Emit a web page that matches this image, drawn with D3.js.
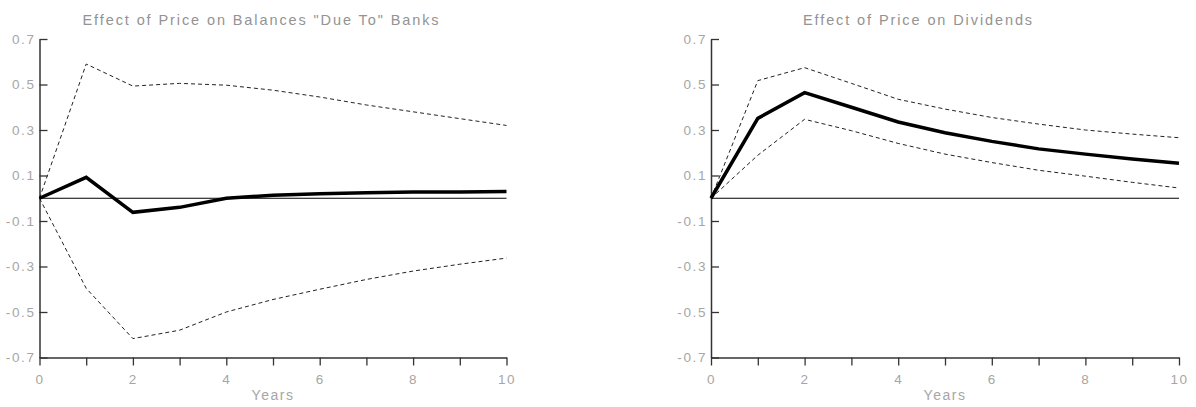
<!DOCTYPE html>
<html>
<head>
<meta charset="utf-8">
<script src="https://cdn.jsdelivr.net/npm/d3@7"></script>
<style>
  body { margin: 0; background: #fff; }
  text { font-family: "Liberation Sans", Arial, sans-serif; }
</style>
</head>
<body>
<div id="chart"></div>
<script>
// years on the x axis
var years = [0, 1, 2, 3, 4, 5, 6, 7, 8, 9, 10];

// effect of price on balances "due to" banks
var banksMid = [0, 0.092, -0.062, -0.04, 0.0, 0.013, 0.02, 0.024, 0.027, 0.028, 0.03];
var banksUpper = [0, 0.59, 0.493, 0.505, 0.497, 0.475, 0.445, 0.41, 0.38, 0.35, 0.32];
var banksLower = [0, -0.396, -0.617, -0.58, -0.5, -0.445, -0.4, -0.357, -0.32, -0.29, -0.263];

// effect of price on dividends
var divMid = [0, 0.351, 0.464, 0.40, 0.335, 0.288, 0.25, 0.217, 0.194, 0.173, 0.154];
var divUpper = [0, 0.517, 0.574, 0.505, 0.435, 0.392, 0.355, 0.326, 0.30, 0.282, 0.266];
var divLower = [0, 0.189, 0.347, 0.297, 0.241, 0.194, 0.157, 0.123, 0.097, 0.07, 0.045];

// tick values and labels
var yTicks = [0.7, 0.5, 0.3, 0.1, -0.1, -0.3, -0.5, -0.7];
var yTickLabels = ["0.7", "0.5", "0.3", "0.1", "-0.1", "-0.3", "-0.5", "-0.7"];
var xTickLabels = ["0", "", "2", "", "4", "", "6", "", "8", "", "10"];

var titles = ['Effect of Price on Balances "Due To" Banks', "Effect of Price on Dividends"];

var w = 1196;
var h = 407;

var svg = d3.select("#chart")
  .append("svg")
  .attr("width", w)
  .attr("height", h);

//one panel per chart
function drawPanel(left, right, titleX, title, mid, upper, lower) {
  var xScale = d3.scaleLinear().domain([0, 10]).range([left, right]);
  var yScale = d3.scaleLinear().domain([-0.7, 0.7]).range([357.5, 39]);

  var g = svg.append("g");

  //y axis with ticks pointing inward
  var yAxis = d3.axisLeft(yScale)
    .tickValues(yTicks)
    .tickSizeInner(-8)
    .tickSizeOuter(0)
    .tickPadding(4)
    .tickFormat(function (d, i) { return yTickLabels[i]; });

  var yG = g.append("g")
    .attr("transform", "translate(" + left + ",0)")
    .call(yAxis);

  //x axis with ticks pointing down
  var xAxis = d3.axisBottom(xScale)
    .tickValues(years)
    .tickSizeInner(8)
    .tickSizeOuter(0)
    .tickPadding(9)
    .tickFormat(function (d, i) { return xTickLabels[i]; });

  var xG = g.append("g")
    .attr("transform", "translate(0," + yScale(-0.7) + ")")
    .call(xAxis);

  [yG, xG].forEach(function (a) {
    a.select(".domain").attr("stroke", "#333").attr("stroke-width", 1.5);
    a.selectAll(".tick line").attr("stroke", "#333").attr("stroke-width", 1.3);
    a.selectAll(".tick text")
      .attr("fill", "#a6a6a6")
      .style("font-size", "13.5px")
      .style("letter-spacing", "1.6px");
  });

  //zero line
  g.append("line")
    .attr("x1", xScale(0))
    .attr("x2", xScale(10))
    .attr("y1", yScale(0))
    .attr("y2", yScale(0))
    .attr("stroke", "#000")
    .attr("stroke-width", 1);

  var line = d3.line()
    .x(function (d, i) { return xScale(years[i]); })
    .y(function (d) { return yScale(d); });

  //confidence bands
  [upper, lower].forEach(function (band) {
    g.append("path")
      .datum(band)
      .attr("d", line)
      .attr("fill", "none")
      .attr("stroke", "#222")
      .attr("stroke-width", 1)
      .attr("stroke-dasharray", "4,3");
  });

  //main response
  g.append("path")
    .datum(mid)
    .attr("d", line)
    .attr("fill", "none")
    .attr("stroke", "#000")
    .attr("stroke-width", 3.5)
    .attr("stroke-linejoin", "miter");

  //title
  g.append("text")
    .attr("x", titleX)
    .attr("y", 25)
    .attr("text-anchor", "middle")
    .attr("fill", "#939393")
    .style("font-size", "14.5px")
    .style("letter-spacing", "1.9px")
    .text(title);

  //x axis title
  g.append("text")
    .attr("x", (left + right) / 2)
    .attr("y", 400)
    .attr("text-anchor", "middle")
    .attr("fill", "#a6a6a6")
    .style("font-size", "14px")
    .style("letter-spacing", "1.5px")
    .text("Years");
}

drawPanel(39.5, 506.5, 261.5, titles[0], banksMid, banksUpper, banksLower);
drawPanel(711, 1179, 918.5, titles[1], divMid, divUpper, divLower);
</script>
</body>
</html>
